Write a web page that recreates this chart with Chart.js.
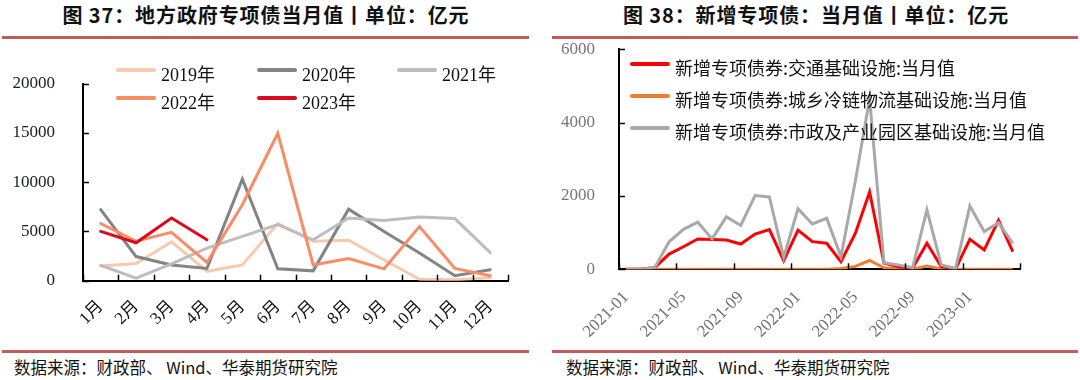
<!DOCTYPE html>
<html><head><meta charset="utf-8">
<script src="https://cdn.jsdelivr.net/npm/chart.js@4.4.0/dist/chart.umd.min.js"></script>
<style>
body{margin:0;width:1080px;height:380px;background:#fff;position:relative;overflow:hidden;font-family:"Noto Sans CJK SC",sans-serif;}
.title{position:absolute;top:0px;font-weight:bold;font-size:20px;color:#111;white-space:nowrap;transform:translateX(-50%);letter-spacing:0.9px;}
.rule{position:absolute;height:3px;background:#c45a5a;}
.src{position:absolute;top:355px;font-size:16.5px;color:#111;white-space:nowrap;}
canvas{position:absolute;}
.lg{position:absolute;white-space:nowrap;color:#111;}
.lg .sw{position:absolute;height:4px;border-radius:2px;}
.lg .tx{position:absolute;line-height:1;}
</style>
</head><body>
<div class="title" style="left:266px">图 37：地方政府专项债当月值丨单位：亿元</div>
<div class="title" style="left:816px">图 38：新增专项债：当月值丨单位：亿元</div>
<div class="rule" style="left:2px;width:527px;top:36px"></div>
<div class="rule" style="left:552px;width:526px;top:36px"></div>
<div class="rule" style="left:2px;width:527px;top:350px"></div>
<div class="rule" style="left:552px;width:526px;top:350px"></div>
<div class="src" style="left:14px">数据来源：财政部、 Wind、华泰期货研究院</div>
<div class="src" style="left:566px">数据来源：财政部、 Wind、华泰期货研究院</div>
<canvas id="cl" width="530" height="305" style="left:0;top:40px"></canvas>
<canvas id="cr" width="530" height="305" style="left:550px;top:40px"></canvas>
<div id="legL"></div>
<div id="legR"></div>
<script>
// ---- left chart data ----
const monthLabels = ['1月','2月','3月','4月','5月','6月','7月','8月','9月','10月','11月','12月'];
const yearNames = ['2019年','2020年','2021年','2022年','2023年'];
const v2019 = [1500,1750,3950,950,1600,5800,4000,4100,2100,150,100,300];
const v2020 = [7200,2450,1600,1250,10300,1200,1000,7250,5000,2800,500,1100];
const v2021 = [1550,250,1700,3300,4500,5700,4150,6350,6100,6450,6300,2850];
const v2022 = [5800,4000,4900,1850,7700,14950,1600,2250,1200,5500,1250,500];
const v2023 = [5000,3850,6350,4150];
const yearColors = ['#f8c9ae','#848484','#bdbdbd','#f88c64','#dc0a1e'];
const leftTicks = [0,5000,10000,15000,20000];

// ---- right chart data ----
const periodLabels = ['2021-01','2021-02','2021-03','2021-04','2021-05','2021-06','2021-07','2021-08','2021-09','2021-10','2021-11','2021-12',
  '2022-01','2022-02','2022-03','2022-04','2022-05','2022-06','2022-07','2022-08','2022-09','2022-10','2022-11','2022-12',
  '2023-01','2023-02','2023-03','2023-04'];
const seriesNames = ['新增专项债券:交通基础设施:当月值','新增专项债券:城乡冷链物流基础设施:当月值','新增专项债券:市政及产业园区基础设施:当月值'];
const transport = [0,0,50,415,615,825,815,800,690,960,1085,235,1070,755,710,210,980,2110,170,70,30,710,70,10,820,530,1340,480];
const coldChain = [0,0,0,0,0,0,0,0,0,0,0,0,0,0,0,20,80,240,40,10,0,90,10,0,0,0,0,0];
const municipal = [0,0,50,750,1090,1285,830,1430,1195,2010,1975,325,1650,1235,1390,345,2400,4650,180,120,40,1620,120,20,1730,1030,1270,710];
const seriesColors = ['#ff0000','#ed7d31','#a9a9a9'];
const rightTicks = [0,2000,4000,6000];

const insideTicks = {
  id:'insideTicks',
  afterDatasetsDraw(chart, args, opts){
    const {ctx, chartArea} = chart; const xs = chart.scales.x, ys = chart.scales.y;
    ctx.save(); ctx.strokeStyle='#000'; ctx.lineWidth=1.5;
    ys.ticks.forEach((t)=>{const py=Math.round(ys.getPixelForValue(t.value))+0.5; ctx.beginPath(); ctx.moveTo(chartArea.left, py); ctx.lineTo(chartArea.left+opts.len, py); ctx.stroke();});
    const n = chart.data.labels.length;
    for(let i=0;i<=n;i+=opts.step){ const px=Math.round(xs.getPixelForValue(i-0.5))+0.5; ctx.beginPath(); ctx.moveTo(px, chartArea.bottom); ctx.lineTo(px, chartArea.bottom-opts.len); ctx.stroke(); }
    ctx.restore();
  }
};

const serif = "'Liberation Serif','Times New Roman','Noto Sans CJK SC',serif";
const plainNum = v => String(v);
function yFit(w){ return function(s){ s.width=w; s.paddingTop=0; s.paddingBottom=0; }; }

function fitArea(chart, target){
  for(let k=0;k<3;k++){
    const a=chart.chartArea, p=chart.options.layout.padding;
    p.top += target.top - a.top;
    p.right += a.right - target.right;
    p.bottom += a.bottom - target.bottom;
    chart.update();
  }
}

const left = new Chart(document.getElementById('cl'), {
  type:'line',
  data:{labels:monthLabels, datasets:[v2019,v2020,v2021,v2022,v2023].map((d,i)=>({label:yearNames[i],data:d,borderColor:yearColors[i],backgroundColor:yearColors[i],order:5-i}))},
  options:{
    responsive:false, animation:false,
    layout:{padding:{left:0,right:22,top:43.5,bottom:0}},
    plugins:{legend:{display:false},tooltip:{enabled:false},insideTicks:{len:6,step:1}},
    elements:{point:{radius:0},line:{borderWidth:3,tension:0,borderCapStyle:'round',borderJoinStyle:'miter'}},
    scales:{
      x:{offset:true,grid:{display:false},border:{color:'#000',width:2},
         ticks:{minRotation:45,maxRotation:45,autoSkip:false,padding:8,color:'#111',font:{family:serif,size:17}},
         afterFit(s){s.height=64.3;}},
      y:{min:0,max:20000,afterBuildTicks(s){s.ticks=leftTicks.map(v=>({value:v}));},grid:{display:false},border:{color:'#000',width:2},
         ticks:{padding:20,color:'#1a1a2a',font:{family:serif,size:17},callback:plainNum},
         afterFit:yFit(83)}
    }
  },
  plugins:[insideTicks]
});
fitArea(left,{top:43.5,right:508,bottom:240.7});

const right = new Chart(document.getElementById('cr'), {
  type:'line',
  data:{labels:periodLabels, datasets:[transport,coldChain,municipal].map((d,i)=>({label:seriesNames[i],data:d,borderColor:seriesColors[i],backgroundColor:seriesColors[i],order:[1,2,0][i]}))},
  options:{
    responsive:false, animation:false,
    layout:{padding:{left:0,right:60,top:9.3,bottom:0}},
    plugins:{legend:{display:false},tooltip:{enabled:false},insideTicks:{len:6,step:4}},
    elements:{point:{radius:0},line:{borderWidth:3,tension:0,borderJoinStyle:'miter'}},
    scales:{
      x:{offset:true,grid:{display:false},border:{color:'#000',width:2},
         ticks:{minRotation:45,maxRotation:45,autoSkip:false,padding:10,color:'#6e6e6e',font:{family:serif,size:17},
           callback(v,i){return i%4===0?this.getLabelForValue(v):'';}},
         afterFit(s){s.height=75.7;}},
      y:{min:0,max:6000,afterBuildTicks(s){s.ticks=rightTicks.map(v=>({value:v}));},grid:{display:false},border:{color:'#000',width:2},
         ticks:{padding:16,color:'#777',font:{family:serif,size:17},callback:plainNum},
         afterFit:yFit(69)}
    }
  },
  plugins:[insideTicks]
});
fitArea(right,{top:9.3,right:470,bottom:229.3});

// HTML legends built from the dataset names/colours
function legendItem(parent, x, y, w, name, color, font){
  const d=document.createElement('div'); d.className='lg'; d.style.left=x+'px'; d.style.top=y+'px';
  const s=document.createElement('div'); s.className='sw'; s.style.left='0px'; s.style.top='-2px'; s.style.width=w+'px'; s.style.background=color;
  const t=document.createElement('div'); t.className='tx'; t.style.left=(w+5)+'px'; t.style.top='-10px'; t.style.font=font; t.textContent=name;
  d.appendChild(s); d.appendChild(t); parent.appendChild(d);
}
const legL=document.getElementById('legL');
const colX=[116,257,397], rowY=[70,98];
yearNames.forEach((n,i)=>legendItem(legL,colX[i%3],rowY[Math.floor(i/3)],40,n,yearColors[i],"18px 'Liberation Serif','Times New Roman','Noto Sans CJK SC',serif"));
const legR=document.getElementById('legR');
seriesNames.forEach((n,i)=>legendItem(legR,630,64+i*31.8,40,n,seriesColors[i],"18px 'Noto Sans CJK SC',sans-serif"));
</script>
</body></html>
